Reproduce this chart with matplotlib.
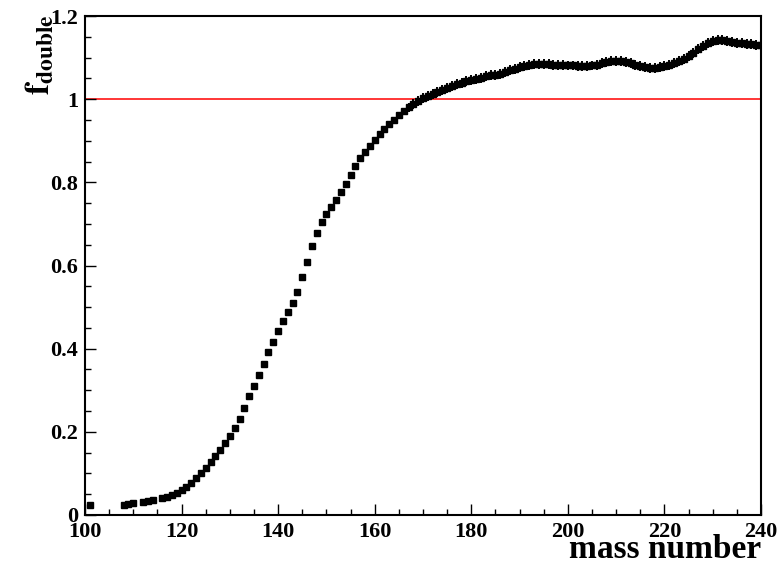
import numpy as np
import matplotlib
matplotlib.use("Agg")
import matplotlib.pyplot as plt
from matplotlib.ticker import MultipleLocator

plt.rcParams['font.family'] = 'Liberation Serif'
plt.rcParams['font.weight'] = 'bold'
plt.rcParams['mathtext.fontset'] = 'stix'

# mass numbers (gaps where no point is shown)
masa = [101] + list(range(108, 111)) + list(range(112, 115)) + list(range(116, 241))

f_double = [
    0.024,                                   # 101
    0.025, 0.026, 0.028,                     # 108-110
    0.031, 0.033, 0.035,                     # 112-114
    0.040, 0.044, 0.048, 0.054, 0.060,       # 116-120
    0.068, 0.078, 0.088, 0.102, 0.114,       # 121-125
    0.128, 0.142, 0.156, 0.172, 0.191,       # 126-130
    0.210, 0.232, 0.258, 0.285, 0.311,       # 131-135
    0.337, 0.364, 0.391, 0.417, 0.443,       # 136-140
    0.466, 0.487, 0.510, 0.536, 0.572,       # 141-145
    0.609, 0.647, 0.679, 0.704, 0.724,       # 146-150
    0.740, 0.757, 0.777, 0.796, 0.818,       # 151-155
    0.839, 0.858, 0.874, 0.888, 0.903,       # 156-160
    0.916, 0.928, 0.940, 0.951, 0.961,       # 161-165
    0.971, 0.980, 0.989, 0.996, 1.002,       # 166-170
    1.007, 1.012, 1.017, 1.022, 1.027,       # 171-175
    1.032, 1.036, 1.040, 1.043, 1.046,       # 176-180
    1.049, 1.052, 1.055, 1.057, 1.059,       # 181-185
    1.061, 1.065, 1.069, 1.073, 1.077,       # 186-190
    1.080, 1.083, 1.085, 1.085, 1.085,       # 191-195
    1.084, 1.083, 1.082, 1.082, 1.081,       # 196-200
    1.081, 1.080, 1.080, 1.080, 1.081,       # 201-205
    1.083, 1.086, 1.089, 1.091, 1.092,       # 206-210
    1.092, 1.090, 1.087, 1.083, 1.079,       # 211-215
    1.077, 1.076, 1.076, 1.077, 1.079,       # 216-220
    1.082, 1.086, 1.091, 1.097, 1.104,       # 221-225
    1.112, 1.120, 1.128, 1.135, 1.140,       # 226-230
    1.143, 1.143, 1.141, 1.138, 1.136,       # 231-235
    1.134, 1.133, 1.132, 1.131, 1.130,       # 236-240
]

# errors: hidden under the markers at low mass (101-160),
# they thicken the band of points above ~160
err_double = [0.0] * 52 + [0.006] * 6 + [0.012] * 74

fig = plt.figure(figsize=(7.77, 5.64), dpi=100)
ax = fig.add_axes([0.1094, 0.0869, 0.87, 0.8847])

ax.axhline(1.0, color='red', lw=1.1, zorder=1)
ax.errorbar(masa, f_double, yerr=err_double, ls='none', marker='s', ms=4.8,
            color='black', ecolor='black', elinewidth=1.4, capsize=0, zorder=2)

ax.set_xlim(100, 240)
ax.set_ylim(0, 1.2)
ax.xaxis.set_major_locator(MultipleLocator(20))
ax.xaxis.set_minor_locator(MultipleLocator(5))
ax.yaxis.set_minor_locator(MultipleLocator(0.05))
ax.set_yticks([0, 0.2, 0.4, 0.6, 0.8, 1.0, 1.2])
ax.set_yticklabels(['0', '0.2', '0.4', '0.6', '0.8', '1', '1.2'])

ax.tick_params(which='both', direction='in', top=False, right=False,
               labelsize=16, width=1.0)
ax.tick_params(which='major', length=8, pad=5)
ax.tick_params(which='minor', length=4)
for s in ax.spines.values():
    s.set_linewidth(1.5)

fig.text(0.9794, 0.025, 'mass number', ha='right', va='center',
         fontsize=24, fontweight='bold')
fig.text(0.052, 0.975, r'$\mathbf{f}_{\mathbf{double}}$', rotation=90,
         ha='center', va='top', fontsize=24)

fig.savefig('out.png', dpi=100)
